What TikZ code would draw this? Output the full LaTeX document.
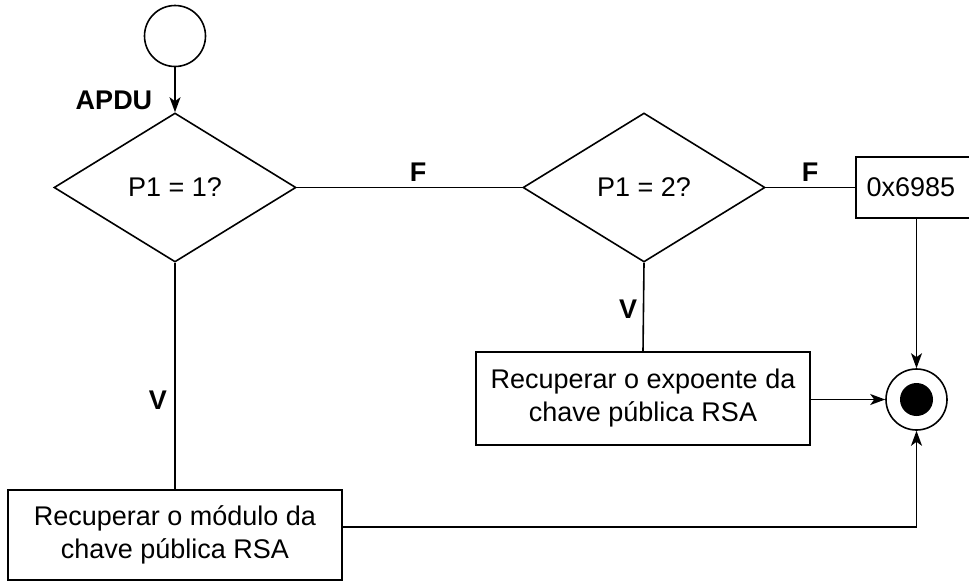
\documentclass[tikz,border=0pt]{standalone}
\usepackage{fontspec}
\setmainfont{Liberation Sans}
\usetikzlibrary{shapes.geometric,arrows.meta}
\begin{document}
\begin{tikzpicture}[x=1pt,y=-1pt,line width=1.6pt,
  font=\fontsize{27}{33}\selectfont,
  arr/.style={-{Stealth[length=15pt,width=11pt,inset=4pt]}},
  dec/.style={draw,diamond,minimum width=242pt,minimum height=149pt,inner sep=0pt},
  boxstyle/.style={draw,rectangle,align=center,inner sep=0pt},
  lbl/.style={font=\fontsize{27}{30}\selectfont\bfseries}]
\useasboundingbox (0,0) rectangle (969,581);
\node[draw,circle,minimum size=61pt,inner sep=0pt] (start) at (175,36) {};
\node[dec] (d1) at (175,187.5) {P1 = 1?};
\node[dec] (d2) at (644,187.5) {P1 = 2?};
\node[boxstyle,minimum width=120pt,minimum height=61pt,anchor=west] (err) at (855,187.5) {\hspace*{-10pt}0x6985};
\node[boxstyle,minimum width=334pt,minimum height=93pt] (b2) at (643,398.5) {Recuperar o expoente da\\chave pública RSA};
\node[boxstyle,minimum width=334pt,minimum height=90pt] (b1) at (175,535) {Recuperar o módulo da\\chave pública RSA};
\node[draw,circle,minimum size=61pt,inner sep=0pt] (end) at (916.5,399.5) {};
\node[fill,circle,minimum size=33pt,inner sep=0pt] (endin) at (end) {};
\node[lbl] (apdu) at (114,100) {APDU};
\node[lbl] (f1) at (418,172) {F};
\node[lbl] (f2) at (810,172) {F};
\node[lbl] (v2) at (628,309) {V};
\node[lbl] (v1) at (158,400) {V};
\coordinate (errbot) at (916.5,218);
\coordinate (corner) at (916.5,527);
\draw[arr] (start) -- (d1.north);
\draw (d1.east) -- (d2.west);
\draw (d2.east) -- (err.west);
\draw (d2.south) -- (b2.north);
\draw (d1.south) -- (b1.north);
\draw[arr] (errbot) -- (end.north);
\draw[arr] (b2.east |- end) -- (end.west);
\draw[arr] (b1.east |- corner) -- (corner) -- (end.south);
\end{tikzpicture}
\end{document}
